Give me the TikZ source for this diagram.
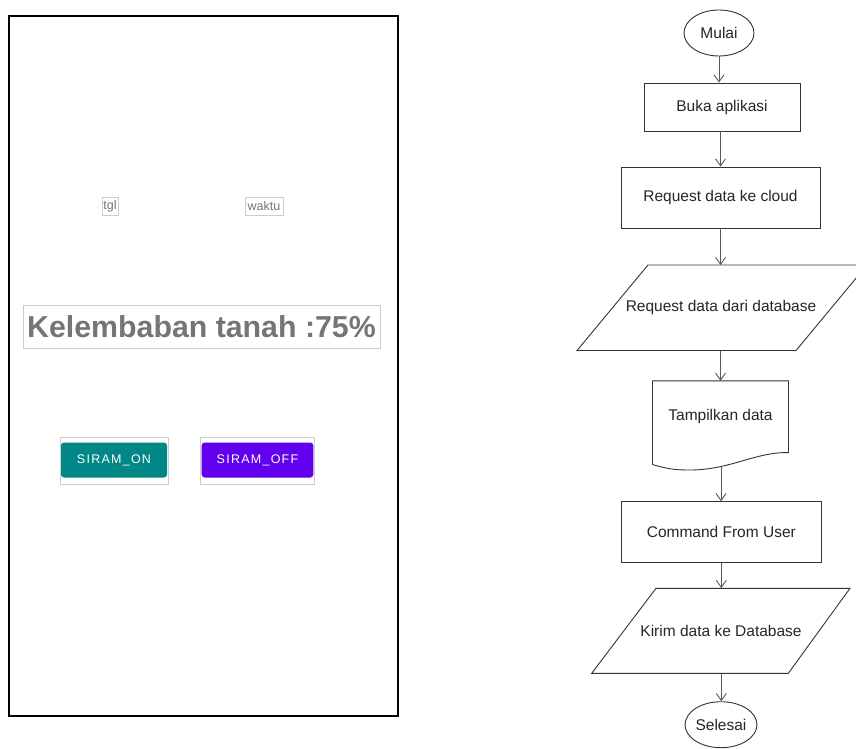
\documentclass[tikz,border=0pt]{standalone}
\usepackage{fontspec}
\setmainfont{Liberation Sans}
\newfontfamily\btnfont[LetterSpace=10]{Liberation Sans}
\usepackage{xcolor}
\usetikzlibrary{shapes.geometric,arrows.meta,positioning}

\definecolor{siramteal}{HTML}{018786}
\definecolor{sirampurple}{HTML}{6200EE}
\definecolor{labelgray}{HTML}{757575}
\definecolor{widgetgray}{HTML}{CCCCCC}

\newcommand{\flowtext}{\fontsize{15.5}{18}\selectfont}
\newcommand{\tinytext}{\fontsize{12.5}{13}\selectfont}
\newcommand{\bigtext}{\fontsize{30.3}{34}\selectfont\bfseries}
\newcommand{\btntext}{\fontsize{12.5}{14}\selectfont\btnfont}

\tikzset{
  flowline/.style={draw=black!80, line width=0.9pt},
  terminal/.style={flowline, ellipse, minimum width=70pt, minimum height=46pt, inner sep=0pt, font=\flowtext, text=black!85},
  process/.style={flowline, rectangle, inner sep=0pt, font=\flowtext, text=black!85},
  iobox/.style={rectangle, inner sep=0pt, minimum height=85pt, font=\flowtext, text=black!85},
  flowarrow/.style={draw=black!65, line width=0.9pt, -{Straight Barb[length=7pt,width=10pt]}},
  widget/.style={draw=widgetgray, line width=0.8pt, inner sep=0pt},
  sirambtn/.style={rounded corners=3pt, inner sep=0pt, minimum width=106pt, minimum height=35pt, text=white, font=\btntext},
}

\begin{document}
\begin{tikzpicture}[x=1pt, y=-1pt]
  \useasboundingbox (0,0) rectangle (856,749);
  \clip (0,0) rectangle (856,749);
  \fill[white] (0,0) rectangle (856,749);

  % phone screen
  \node[draw, line width=2.5pt, minimum width=389pt, minimum height=700pt] (phone) at (203.5,366) {};
  \node[widget, minimum width=16pt, minimum height=18pt, text=labelgray, font=\tinytext] (tgl) at (110,206) {tgl};
  \node[widget, minimum width=38pt, minimum height=18pt, text=labelgray, font=\tinytext] (waktu) at (264,206) {waktu};
  \node[widget, minimum width=357pt, minimum height=43pt, text=labelgray, font=\bigtext] (humidity) at (201.5,326.5) {Kelembaban tanah :75\%};

  \node[widget, minimum width=108pt, minimum height=47pt] (onframe) at (114,460.5) {};
  \node[sirambtn, fill=siramteal] (siramon) at (114,460) {SIRAM\_ON};
  \node[widget, minimum width=113.6pt, minimum height=47pt] (offframe) at (257.5,460.5) {};
  \node[sirambtn, fill=sirampurple, minimum width=111.6pt] (siramoff) at (257.5,460) {SIRAM\_OFF};

  % flowchart
  \node[terminal] (start) at (719,33) {Mulai};
  \node[process, minimum width=156pt, minimum height=48pt] (open) at (722,107) {Buka aplikasi};
  \node[process, minimum width=199pt, minimum height=61pt] (cloud) at (720.5,197.5) {Request data ke cloud};
  \node[iobox] (readdb) at (721,307.8) {Request data dari database};
  \draw[flowline] ([shift={(-144,42.7)}]readdb.center) -- ([shift={(75,42.7)}]readdb.center)
    -- ([shift={(146,-42.8)}]readdb.center) -- ([shift={(-73,-42.8)}]readdb.center) -- cycle;

  \node[inner sep=0pt, minimum width=135.6pt, minimum height=71.3pt, font=\flowtext, text=black!85] (show) at (720.5,416.7) {Tampilkan data};
  \draw[flowline] ([yshift=-12pt]show.south west) -- (show.north west) -- (show.north east) -- (show.south east)
    .. controls (755,452) and (730,470) .. (690,470)
    .. controls (675,470) and (668,469) .. ([yshift=-12pt]show.south west);
  \coordinate (showbot) at (721,466);

  \node[process, minimum width=199.3pt, minimum height=61pt] (command) at (721.3,532.2) {Command From User};
  \node[iobox] (senddb) at (721,630.8) {Kirim data ke Database};
  \draw[flowline] ([shift={(-129.3,42.5)}]senddb.center) -- ([shift={(67.3,42.5)}]senddb.center)
    -- ([shift={(129,-42.5)}]senddb.center) -- ([shift={(-65,-42.5)}]senddb.center) -- cycle;
  \node[terminal] (finish) at (721,724.7) {Selesai};

  \draw[flowarrow] (start.south) -- (start.south |- open.north);
  \draw[flowarrow] (open.south -| cloud.north) -- (cloud.north);
  \draw[flowarrow] (cloud.south) -- (cloud.south |- readdb.north);
  \draw[flowarrow] (readdb.south -| cloud.south) -- (cloud.south |- show.north);
  \draw[flowarrow] (showbot) -- (showbot |- command.north);
  \draw[flowarrow] (command.south) -- (command.south |- senddb.north);
  \draw[flowarrow] (senddb.south -| command.south) -- (command.south |- finish.north);
\end{tikzpicture}
\end{document}
